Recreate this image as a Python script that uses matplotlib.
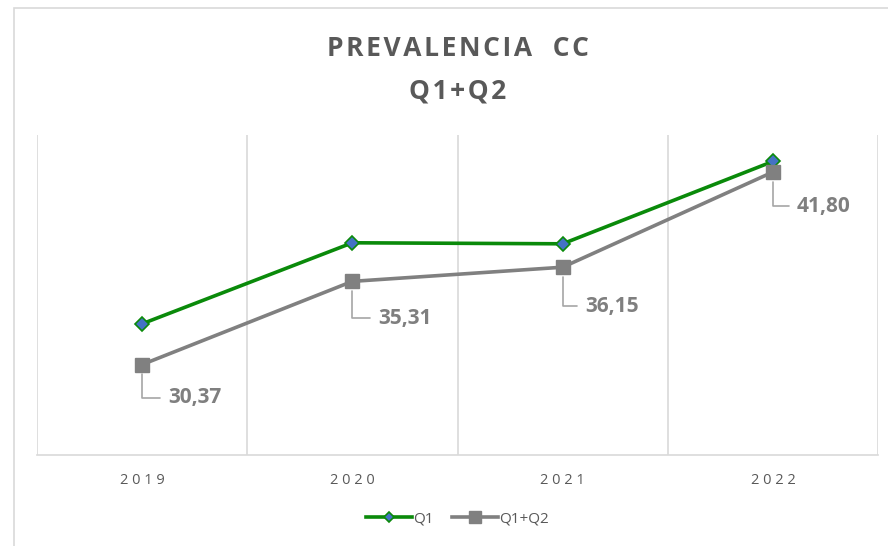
import matplotlib
matplotlib.use("Agg")
import matplotlib.pyplot as plt
from matplotlib.patches import Rectangle

years = ["2019", "2020", "2021", "2022"]
q1 = [32.79, 37.60, 37.54, 42.43]
q1q2 = [30.37, 35.31, 36.15, 41.80]
q1q2_labels = ["30,37", "35,31", "36,15", "41,80"]

FONT = ["Open Sans", "DejaVu Sans"]
plt.rcParams["font.family"] = FONT

fig = plt.figure(figsize=(8.88, 5.46), dpi=100)
ax = fig.add_axes([37 / 888, 91 / 546, 841 / 888, 320 / 546])

# outer chart border (runs past the right and bottom edge of the image)
fig.patches.append(Rectangle((13.5 / 888, -0.1), 1.2, (546 - 8) / 546 + 0.1,
                             transform=fig.transFigure, fill=False,
                             edgecolor="#d9d9d9", lw=1.2))

x = range(len(years))
ax.plot(x, q1, color="#0a8a0a", lw=2.6, marker="D", ms=7,
        markerfacecolor="#4472c4", markeredgecolor="#0a8a0a", markeredgewidth=1.2,
        label="Q1", zorder=3)
ax.plot(x, q1q2, color="#808080", lw=2.6, marker="s", ms=10,
        markerfacecolor="#808080", markeredgecolor="#808080",
        label="Q1+Q2", zorder=3)

offsets = [(26, -33), (26, -37), (23, -39), (24, -34)]
for i, (v, lab) in enumerate(zip(q1q2, q1q2_labels)):
    dx, dy = offsets[i]
    ax.annotate(lab, (i, v), xytext=(dx * 0.72, dy * 0.72), textcoords="offset points",
                ha="left", va="center", fontsize=15, fontweight="bold", color="#7f7f7f",
                arrowprops=dict(arrowstyle="-", color="#a6a6a6", lw=1.2,
                                connectionstyle="angle,angleA=0,angleB=90,rad=0",
                                shrinkA=4, shrinkB=7))

ax.set_xlim(-0.5, 3.5)
ax.set_ylim(25, 44)
ax.set_yticks([])
ax.set_xticks(list(x))
ax.set_xticklabels([" ".join(y) for y in years], fontsize=10.5, color="#595959")
ax.set_xticks([-0.5, 0.5, 1.5, 2.5, 3.5], minor=True)
ax.tick_params(axis="x", which="both", length=0, pad=13)
ax.grid(True, which="minor", axis="x", color="#d9d9d9", lw=1.2)
for s in ["top", "right", "left"]:
    ax.spines[s].set_visible(False)
ax.spines["bottom"].set_color("#d9d9d9")
ax.spines["bottom"].set_linewidth(1.2)

hair = "\u200a"
title1 = hair.join("PREVALENCIA") + "   " + hair.join("CC")
title2 = hair.join("Q1+Q2")
fig.text(457.5 / 888, 1 - 48 / 546, title1, ha="center", va="center",
         fontsize=19, fontweight="bold", color="#595959")
fig.text(457.5 / 888, 1 - 91 / 546, title2, ha="center", va="center",
         fontsize=19, fontweight="bold", color="#595959")

fig.legend(loc="center", bbox_to_anchor=(457.5 / 888, 1 - 519 / 546), ncol=2, frameon=False,
           fontsize=11, labelcolor="#595959", handlelength=3.0, handletextpad=0.1,
           columnspacing=1.2, markerscale=0.8)

fig.savefig("out.png", dpi=100, facecolor="white")
